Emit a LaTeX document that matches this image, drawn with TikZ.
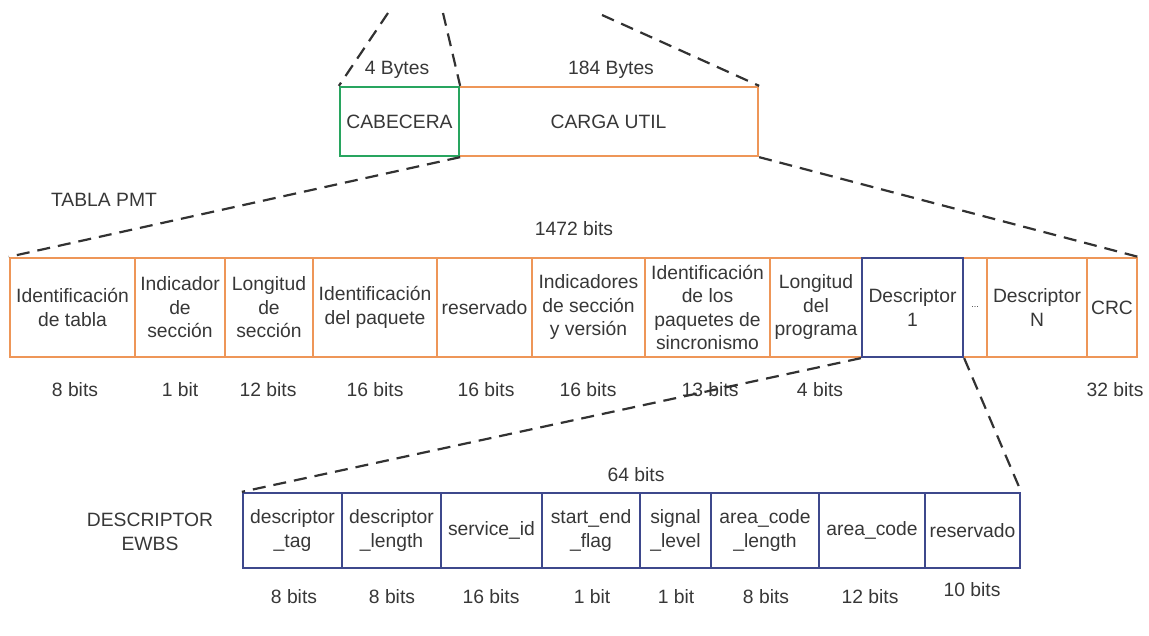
\documentclass[tikz,border=0pt]{standalone}
\usepackage{fontspec}
\setmainfont{Liberation Sans}
\definecolor{orng}{RGB}{238,150,88}
\definecolor{grn}{RGB}{40,165,95}
\definecolor{navy}{RGB}{62,72,140}
\definecolor{txt}{RGB}{55,55,55}
\definecolor{dash}{RGB}{50,50,50}
\tikzset{
  base/.style={inner sep=0pt, align=center, text=txt, font=\fontsize{19.3}{23.5}\selectfont},
  cell/.style={base, draw, line width=2.3pt, minimum height=#1},
  lbl/.style={base},
  zoomline/.style={draw=dash, line width=2.2pt, dash pattern=on 13pt off 8pt},
}
\begin{document}
\begin{tikzpicture}[x=1pt,y=-1pt]
\useasboundingbox (0,0) rectangle (1149,635);
% top row
\node[cell=69pt, draw=orng, minimum width=299pt] (carga) at (608.5,121.5) {CARGA UTIL};
\node[cell=69pt, draw=grn, minimum width=119pt] (cab) at (399.5,121.5) {CABECERA};
\node[lbl] (b4) at (397,70) {4 Bytes};
\node[lbl] (b184) at (611,70) {184 Bytes};
\coordinate (t1) at (388,13);
\coordinate (t2) at (443,13);
\coordinate (t3) at (602,15);
% PMT row
\node[lbl] (pmt) at (104,200) {TABLA PMT};
\node[lbl] (total) at (574,229) {1472 bits};
\begin{scope}[every node/.append style={cell=99pt, draw=orng}]
\node[minimum width=125pt] (c1) at (72.5,307.5) {Identificación\\de tabla};
\node[minimum width=90pt] (c2) at (180,307.5) {Indicador\\de\\sección};
\node[minimum width=88pt] (c3) at (269,307.5) {Longitud\\de\\sección};
\node[minimum width=124pt] (c4) at (375,307.5) {Identificación\\del paquete};
\node[minimum width=95pt] (c5) at (484.5,307.5) {reservado};
\node[minimum width=113pt] (c6) at (588.5,307.5) {Indicadores\\de sección\\y versión};
\node[minimum width=125pt] (c7) at (707.5,307.5) {Identificación\\de los\\paquetes de\\sincronismo};
\node[minimum width=92pt] (c8) at (816,307.5) {Longitud\\del\\programa};
\node[minimum width=24pt] (c10) at (975,307.5) {\fontsize{9}{10}\selectfont ...};
\node[minimum width=100pt] (c11) at (1037,307.5) {Descriptor\\N};
\node[minimum width=50pt] (c12) at (1112,307.5) {CRC};
\end{scope}
\node[cell=99pt, draw=navy, minimum width=101pt] (c9) at (912.5,307.5) {Descriptor\\1};
\node[lbl] (p1) at (75,390) {8 bits};
\node[lbl] (p2) at (180,390) {1 bit};
\node[lbl] (p3) at (268,390) {12 bits};
\node[lbl] (p4) at (375,390) {16 bits};
\node[lbl] (p5) at (486,390) {16 bits};
\node[lbl] (p6) at (588,390) {16 bits};
\node[lbl] (p7) at (710,390) {13 bits};
\node[lbl] (p8) at (820,390) {4 bits};
\node[lbl] (p12) at (1115,390) {32 bits};
% descriptor row
\node[lbl] (ewbs) at (150,532) {DESCRIPTOR\\EWBS};
\node[lbl] (total2) at (636,475) {64 bits};
\begin{scope}[every node/.append style={cell=75pt, draw=navy}]
\node[minimum width=99pt] (d1) at (292.5,530.5) {descriptor\\\_tag};
\node[minimum width=99pt] (d2) at (391.5,530.5) {descriptor\\\_length};
\node[minimum width=101pt] (d3) at (491.5,530.5) {service\_id};
\node[minimum width=98pt] (d4) at (591,530.5) {start\_end\\\_flag};
\node[minimum width=71pt] (d5) at (675.5,530.5) {signal\\\_level};
\node[minimum width=108pt] (d6) at (765,530.5) {area\_code\\\_length};
\node[minimum width=106pt] (d7) at (872,530.5) {area\_code};
\node[minimum width=95pt] (d8) at (972.5,530.5) {reservado};
\end{scope}
\node[lbl] (q1) at (294,597) {8 bits};
\node[lbl] (q2) at (392,597) {8 bits};
\node[lbl] (q3) at (491,597) {16 bits};
\node[lbl] (q4) at (592,597) {1 bit};
\node[lbl] (q5) at (676,597) {1 bit};
\node[lbl] (q6) at (766,597) {8 bits};
\node[lbl] (q7) at (870,597) {12 bits};
\node[lbl] (q8) at (972,590) {10 bits};
% zoom lines
\draw[zoomline] (t1) -- (cab.north west);
\draw[zoomline] (t2) -- (cab.north east);
\draw[zoomline] (t3) -- (carga.north east);
\draw[zoomline] (cab.south east) -- (c1.north west);
\draw[zoomline] (carga.south east) -- (c12.north east);
\draw[zoomline] (c9.south west) -- (d1.north west);
\draw[zoomline] (c9.south east) -- (d8.north east);
\end{tikzpicture}
\end{document}
